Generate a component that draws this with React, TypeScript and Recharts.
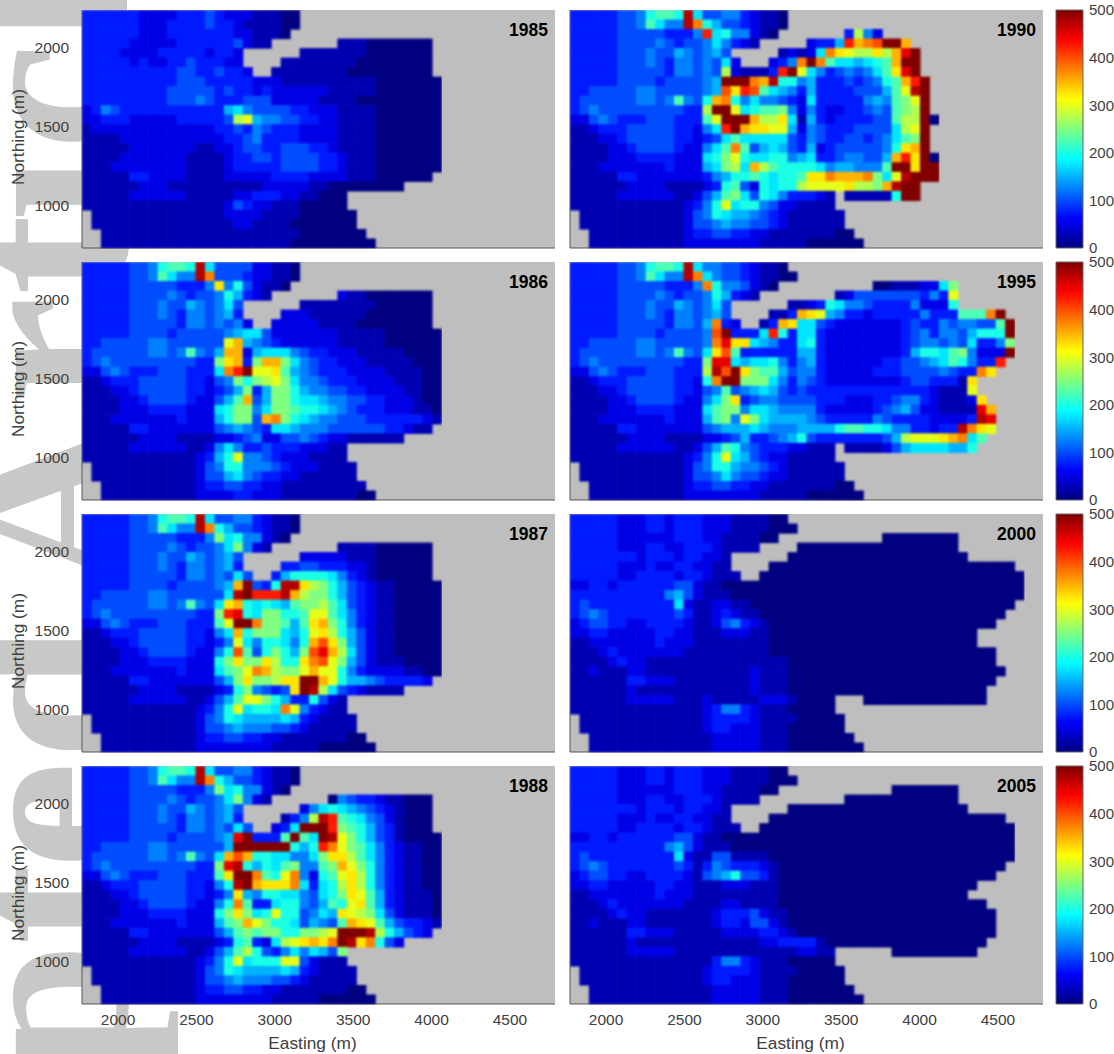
import { ScatterChart, Scatter, XAxis, YAxis, CartesianGrid, BarChart, Bar } from "recharts";

// head values on a 60 m grid, one character per cell: 0-9a-k = 0..500 in steps of 25, "." = no data
const LEVEL_KEYS = "0123456789abcdefghijk";
const X_TICKS = [2000, 2500, 3000, 3500, 4000, 4500];
const Y_TICKS = [1000, 1500, 2000];
const BAR_TICKS = [0, 100, 200, 300, 400, 500];
const JET_STOPS = [
  { at: 0, color: "#000080" }, { at: 12.5, color: "#0000ff" }, { at: 37.5, color: "#00ffff" },
  { at: 62.5, color: "#ffff00" }, { at: 87.5, color: "#ff0000" }, { at: 100, color: "#800000" },
];

const WEST_ACTIVE = [
  "333334458998j7", "333334459755jf", "33333444443335", "33333444454344", "33333444544654",
  "33333444543554", "33333444443554", "33333444434444", "33444445544444", "34444445545954",
  "34544444444433", "22454333444333", "11233344444332", "11122344444332", "11112234444322",
  "11112223333222", "11122222223222", "11111332222222", "11111122221111", "11111222222112",
  "11111111111123", ".1111111111124", ".1111111111124", "..111111111123", "..111111111122",
];
const WEST_LATE = [
  "33333222332333", "33333222332333", "33333222222333", "33333222332233", "33333332333233",
  "33333222322332", "33333223333233", "22332333333442", "33333333335642", "34333333333721",
  "34543333333431", "23443322333321", "22332222233221", "11222222232221", "11123222222211",
  "11112322111111", "11211122111111", "11111133222111", "11111121111111", "11111122222111",
  "11111111111111", ".1111111111111", ".1111111111111", "..111111111111", "..111111111111",
];
const WEST_1985 = [
  "33333322223334", "33333322233334", "33333322233333", "33333222223333", "33332222333332",
  "33333232233433", "33333333334433", "33333333334443", "33333333344444", "33333333344454",
  "23543333333333", "22333222223333", "12222222222222", "11112222222222", "11111222222211",
  "11112222222111", "11122222222111", "11111332222111", "11111122211111", "11111222222111",
  "11111111111111", ".1111111111111", ".1111111111111", "..111111111111", "..111111111111",
];

const EAST_1985 = [
  "322211100", "332111100", "33221110", "334211.......1110000000", "332......11111110000000",
  "322....1111111100000000", "4332..11111111000000000", "333322211111111110000000",
  "343323222222111110000000", "333444222221111000000000", "367544443322211110000000",
  "34bc65544332211110000000", "334354333222211110000000", "233453333222211110000000",
  "223443344433211110000000", "123344344443321110000000", "123333344443321110000000",
  "12222233332222111000000", "11111222221100000000", "11223332211000", "12432211100000",
  "122221111000000", "112211110000000", "1111111110000000", "11111111000000000",
];
const EAST_1986 = [
  "444422110", "444322110", "d5842110", "586321.......2110000000", "574......11111111000000",
  "563....2221111110000000", "5452..22222111100000000", "456774222222211111000000",
  "4ce654322222211111000000", "6ee267775433222111110000", "ade3aeea7543322211111000",
  "7fhkccd96543332222111100", "45a8abca7554333222211100", "346a36aa8655443322221100",
  "469e46aa8776554433222100", "78aa57aa9887654333222110", "68aa4efa8765544433333321",
  "45654377655544444433211", "22345224454322111111", "57533433322211", "68c55432221111",
  "588555432221111", "467543322111111", "3443322111111111", "22332221111111100",
];
const EAST_1987 = [
  "445532110", "864432110", "a7855210", "57a521.......1111000000", "564......22222111000000",
  "563....3344333221000000", "5474..36888875321000000", "56ek438jjdba864321100000",
  "47jkhhhjebaa864321100000", "7de878769aab974321100000", "ahi87aa889cc975321100000",
  "9ckkfaa969dea85321100000", "57e8aaa768cdb86421100000", "35c7588758egda6421100000",
  "58g948a86agieb7421100000", "8adaadb88dfgca6421110000", "79acfebaacecc85322221100",
  "46adaabddkkec8665433332", "238a5434dkjb74321111", "469cca86338421", "58c7887fc53211",
  "587666676321111", "456555443211111", "3443322111111100", "22222211111000000",
];
const EAST_1988 = [
  "445532110", "864432110", "a7855210", "57a521......05433211000", "564......25787654321000",
  "563....135bjh9875421000", "5474..237kkkha986431000", "56ik3339k97kjca864310000",
  "46kkkkkk868hfca975321100", "7ege8877557addb975321100", "aij86879a559aeca85321100",
  "9dkkf98cf5289cdb85321100", "58jkedddf7378bdb85321100", "35d6588775478adc96321110",
  "58f93378854698cd96321110", "8ada78c884576dcba7421110", "69aeca88746549edc9643321",
  "469a9aa88aabckkkjb86432", "2389327bcdedfkjdf842", "469b843575764a", "58c7888cc42111",
  "587666676321111", "456555443211111", "3443322111111100", "22222211111000000",
];
const EAST_1990 = [
  "445532110", "864432110", "h7855210.......3b52", "575321.....2336hefgkke", "564.....12127fdcbbdbeik",
  "5472...235fkf9776789ekk", "54b21113hkc753454579dik", "56kkkfej8856333434589ehk",
  "56gdhg976536333344469cjk", "8ef857554327333335659ack", "bkkc7899a525322334549abk",
  "9ckkkebbd716323333449bbk0", "57hkeddcc625433344447bck", "3479777774354334434579ak",
  "579f94676436234444458dek", "78ac8778856733455446ehdk0", "67ab7eb9888875665559kkdkk",
  "35688987889ddfeeefa7cjkkk", "2389428788bccccdbbaejkk", "469a7487533321.111118kk",
  "58c78854221111", "587665432111111", "456554432111111", "3443322111111100", "22222211111000000",
];
const EAST_1995 = [
  "554432110", "7544321100", "f8554210..........00111227a", "586321........124444444353c",
  "574......112387554333352228", "564....113edc65332333335333999fk", "6f32..13ed7743222222234335455449k",
  "5gk3337h837732222222234535546888k", "5fidd765337832222222234554547335a",
  "7dg933333366322222222368879a5222k", "aii7677853563222222334456798533h",
  "bjgkda99645532222233344445433fd", "8fkkaaa753543222222223443331d", "4594567643433333333333332111c",
  "57ad3455444433322233455321112d", "79aa5776555532222234564221111ie", "69a5ca76666543333354333322223ji",
  "456667655566668998875533233jfdc", "223463345684333333346bcccdef79",
  "46985433322111.11112467777668", "58c76432211111", "588655432111111", "457544322111111",
  "3443322111111100", "22222211111000000",
];
const EAST_2000 = [
  "222111100", "2221111000", "22111100...........00000000", "321111....00000000000000000",
  "221......0000000000000000000", "211....00000000000000000000000000", "2111..0000000000000000000000000000",
  "1100000000000000000000000000000000", "1110000000000000000000000000000000", "122110000000000000000000000000000",
  "12321100000000000000000000000000", "1245321000000000000000000000000", "11222110000000000000000000000",
  "11111110000000000000000000000", "1111111000000000000000000000000", "1111111110000000000000000000000",
  "11111211100000000000000000000000", "1111121110000000000000000000000", "111112111000000000000000000000",
  "21111122210000...0000000000000", "23553211100000", "233332111100000", "233222111000000",
  "1222221110000000", "12222211100000000",
];
const EAST_2005 = [
  "222111100", "2221111000", "22111100............0000000", "321111.........000000000000",
  "221......0000000000000000000", "211....0000000000000000000000000", "2111..000000000000000000000000000",
  "110000000000000000000000000000000", "111000000000000000000000000000000", "144111100000000000000000000000000",
  "35433321000000000000000000000000", "4568443100000000000000000000000", "11222111000000000000000000000",
  "1111111100000000000000000000", "112211110000000000000000000000", "1233342110000000000000000000000",
  "1233244210000000000000000000000", "1122223321000000000000000000000", "111111223333100000000000000000",
  "11111111112211......000000000", "13553211100000", "233332111100000", "233222111000000",
  "1222221110000000", "12222211100000000",
];

const PANELS = [
  { year: 1985, col: 0, row: 0, west: WEST_1985, east: EAST_1985 },
  { year: 1986, col: 0, row: 1, west: WEST_ACTIVE, east: EAST_1986 },
  { year: 1987, col: 0, row: 2, west: WEST_ACTIVE, east: EAST_1987 },
  { year: 1988, col: 0, row: 3, west: WEST_ACTIVE, east: EAST_1988 },
  { year: 1990, col: 1, row: 0, west: WEST_ACTIVE, east: EAST_1990 },
  { year: 1995, col: 1, row: 1, west: WEST_ACTIVE, east: EAST_1995 },
  { year: 2000, col: 1, row: 2, west: WEST_LATE, east: EAST_2000 },
  { year: 2005, col: 1, row: 3, west: WEST_LATE, east: EAST_2005 },
];

const PLOT_W = 473;
const PLOT_H = 238;
const COL_X = [82, 570];
const ROW_Y = [10, 262, 514, 766];
const X_MIN = 1770;
const X_MAX = 4787;
const Y_MIN = 735;
const Y_MAX = 2235;
const STEP_E = 60.33;
const STEP_N = 60;
const CELL_W = (STEP_E * PLOT_W) / (X_MAX - X_MIN);
const CELL_H = (STEP_N * PLOT_H) / (Y_MAX - Y_MIN);
const INK = "#404040";
const SANS = "'Liberation Sans', Arial, sans-serif";

function jet(v: number) {
  const t = (v / 500) * 100;
  const hex = (s: string) => [1, 3, 5].map((i) => parseInt(s.slice(i, i + 2), 16));
  for (let i = 1; i < JET_STOPS.length; i++) {
    if (t <= JET_STOPS[i].at) {
      const a = JET_STOPS[i - 1];
      const b = JET_STOPS[i];
      const f = (t - a.at) / (b.at - a.at);
      const ca = hex(a.color);
      const cb = hex(b.color);
      return `rgb(${ca.map((c, k) => Math.round(c + (cb[k] - c) * f)).join(",")})`;
    }
  }
  return "#800000";
}

function toCells(west: string[], east: string[]) {
  const cells: { e: number; n: number; v: number }[] = [];
  west.forEach((w, r) => {
    const line = w + east[r];
    for (let c = 0; c < line.length; c++) {
      const idx = LEVEL_KEYS.indexOf(line[c]);
      if (idx < 0) continue;
      cells.push({ e: X_MIN + (c + 0.5) * STEP_E, n: Y_MAX - (r + 0.5) * STEP_N, v: idx * 25 });
    }
  });
  return cells;
}

const CellMark = (p: any) => (
  <rect
    x={p.cx - CELL_W / 2}
    y={p.cy - CELL_H / 2}
    width={CELL_W + 0.6}
    height={CELL_H + 0.6}
    fill={jet(p.payload.v)}
  />
);

function Panel({ year, col, row, west, east }: (typeof PANELS)[number]) {
  const isLeft = col === 0;
  const isBottom = row === 3;
  const yAxisW = isLeft ? 82 : 1;
  const xAxisH = isBottom ? 50 : 1;
  const tickFont = { fontSize: 15.5, fill: INK, fontFamily: SANS };
  const labelFont = { fontSize: 17.3, fill: INK, fontFamily: SANS };
  return (
    <div style={{ position: "absolute", left: COL_X[col] - yAxisW, top: ROW_Y[row] - 5 }}>
      <ScatterChart
        width={yAxisW + PLOT_W + 1}
        height={5 + PLOT_H + xAxisH}
        margin={{ top: 5, right: 1, bottom: 0, left: 0 }}
      >
        <CartesianGrid fill="#bebebe" stroke="none" horizontal={false} vertical={false} />
        <XAxis
          type="number"
          dataKey="e"
          domain={[X_MIN, X_MAX]}
          ticks={isBottom ? X_TICKS : []}
          height={xAxisH}
          stroke="#555555"
          tick={isBottom ? tickFont : false}
          tickLine={false}
          tickMargin={4}
          allowDataOverflow
          label={isBottom ? { value: "Easting (m)", position: "insideBottom", offset: 5, dx: -6, style: labelFont } : undefined}
        />
        <YAxis
          type="number"
          dataKey="n"
          domain={[Y_MIN, Y_MAX]}
          ticks={isLeft ? Y_TICKS : []}
          width={yAxisW}
          stroke="#555555"
          tick={isLeft ? tickFont : false}
          tickLine={false}
          tickMargin={7}
          allowDataOverflow
          label={
            isLeft
              ? { value: "Northing (m)", angle: -90, position: "insideLeft", offset: 18, dy: 8, style: { ...labelFont, textAnchor: "middle" } }
              : undefined
          }
        />
        <Scatter data={toCells(west, east)} shape={CellMark} isAnimationActive={false} />
      </ScatterChart>
      <div style={{ position: "absolute", right: 8, top: 15, font: `bold 17.5px ${SANS}`, color: "#000" }}>
        {year}
      </div>
    </div>
  );
}

function ColorBar({ top }: { top: number }) {
  return (
    <div style={{ position: "absolute", left: 1055, top: top - 10 }}>
      <BarChart
        width={59}
        height={PLOT_H + 20}
        data={[{ name: "head", v: 500 }]}
        margin={{ top: 10, right: 0, bottom: 10, left: 1 }}
        barCategoryGap={0}
      >
        <defs>
          <linearGradient id={`jet${top}`} x1="0" y1="1" x2="0" y2="0">
            {JET_STOPS.map((s) => (
              <stop key={s.at} offset={`${s.at}%`} stopColor={s.color} />
            ))}
          </linearGradient>
        </defs>
        <XAxis dataKey="name" hide />
        <YAxis
          orientation="right"
          domain={[0, 500]}
          ticks={BAR_TICKS}
          width={31}
          axisLine={false}
          tickLine={false}
          tickMargin={0}
          tick={{ fontSize: 15, fill: INK, fontFamily: SANS, textAnchor: "start" }}
        />
        <Bar dataKey="v" fill={`url(#jet${top})`} stroke="#666666" isAnimationActive={false} />
      </BarChart>
    </div>
  );
}

const STAMP_Y = [1077, 945, 869, 760, 592, 404, 295, 222, 150, 43, -60];

function Stamp() {
  return (
    <svg width={1114} height={1054} style={{ position: "absolute", left: 0, top: 0 }}>
      <text
        transform="rotate(-90)"
        x={STAMP_Y.map((y) => -y).join(" ")}
        y={127}
        fontFamily="'Liberation Serif', serif"
        fontWeight="bold"
        fontSize={242}
        fill="#c8c8c6"
      >
        ptedArticle
      </text>
    </svg>
  );
}

export default function App() {
  return (
    <div
      style={{ position: "absolute", left: 0, top: 0, width: 1114, height: 1054, overflow: "hidden", background: "#fff" }}
    >
      {/* the maps were exported slightly smoothed */}
      <style>{`.recharts-scatter { filter: blur(1.2px); clip-path: inset(0); }`}</style>
      <Stamp />
      {PANELS.map((p) => (
        <Panel key={p.year} {...p} />
      ))}
      {ROW_Y.map((y) => (
        <ColorBar key={y} top={y} />
      ))}
    </div>
  );
}
